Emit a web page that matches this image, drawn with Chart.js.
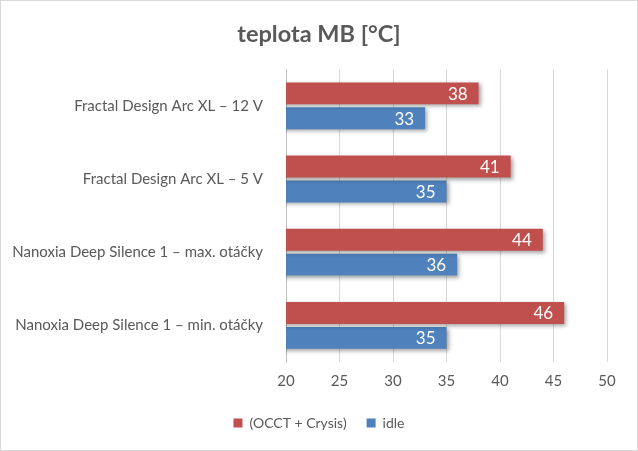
<!DOCTYPE html>
<html><head><meta charset="utf-8">
<script src="https://cdn.jsdelivr.net/npm/chart.js@4.4.1/dist/chart.umd.min.js"></script>
<style>html,body{margin:0;padding:0;background:#fff}#wrap{width:638px;height:451px;position:relative;box-sizing:border-box;border:1px solid #d9d9d9}</style>
</head><body><div id="wrap"><canvas id="c" width="636" height="449"></canvas></div>
<script>
const categories = ["Fractal Design Arc XL – 12 V","Fractal Design Arc XL – 5 V","Nanoxia Deep Silence 1 – max. otáčky","Nanoxia Deep Silence 1 – min. otáčky"];
const seriesNames = ["(OCCT + Crysis)","idle"];
const loadValues = [38,41,44,46];
const idleValues = [33,35,36,35];
const xTicks = [20,25,30,35,40,45,50];

const FONT = "Lato, 'Open Sans', sans-serif";
const shadowPlugin = {
  id:'shadow',
  beforeDatasetsDraw(chart){const c=chart.ctx;c.save();c.shadowColor='rgba(0,0,0,0.35)';c.shadowOffsetX=2;c.shadowOffsetY=2;c.shadowBlur=4;},
  afterDatasetsDraw(chart){chart.ctx.restore();}
};
const labelPlugin = {
  id:'vals',
  afterDatasetsDraw(chart){
    const c=chart.ctx;c.save();c.fillStyle='#fff';c.font='17px '+FONT;c.textAlign='right';c.textBaseline='middle';
    chart.data.datasets.forEach((ds,i)=>{chart.getDatasetMeta(i).data.forEach((bar,j)=>{c.fillText(String(ds.data[j]),bar.x-11,bar.y+1);});});
    c.restore();
  }
};
new Chart(document.getElementById('c'),{
  type:'bar',
  data:{labels:categories,datasets:[
    {label:seriesNames[0],data:loadValues,backgroundColor:'#C0504D',categoryPercentage:0.68,barPercentage:0.88},
    {label:seriesNames[1],data:idleValues,backgroundColor:'#4F81BD',categoryPercentage:0.68,barPercentage:0.88}
  ]},
  options:{
    indexAxis:'y',responsive:false,animation:false,
    layout:{padding:{left:0,right:0,top:0,bottom:10}},
    scales:{
      x:{min:20,max:50,afterBuildTicks(s){s.ticks=xTicks.map(v=>({value:v}));},
        grid:{color:'#D9D9D9',drawTicks:false},border:{display:false},
        ticks:{color:'#595959',font:{family:FONT,size:15},padding:10},
        afterFit(s){s.height=34;}},
      y:{grid:{display:false},border:{color:'#BFBFBF'},
        ticks:{color:'#595959',font:{family:FONT,size:15},padding:15},
        afterFit(s){s.width=285;}},
      yR:{type:'linear',position:'right',display:true,grid:{display:false},border:{display:false},ticks:{display:false},
        afterFit(s){s.width=30;}}
    },
    plugins:{
      title:{display:true,text:'teplota MB [°C]',color:'#595959',font:{family:FONT,size:23.5,weight:'bold'},padding:{top:19,bottom:21}},
      legend:{position:'bottom',labels:{color:'#595959',font:{family:FONT,size:14},boxWidth:9,boxHeight:9,padding:20}},
      tooltip:{enabled:false}
    }
  },
  plugins:[shadowPlugin,labelPlugin]
});
</script></body></html>
